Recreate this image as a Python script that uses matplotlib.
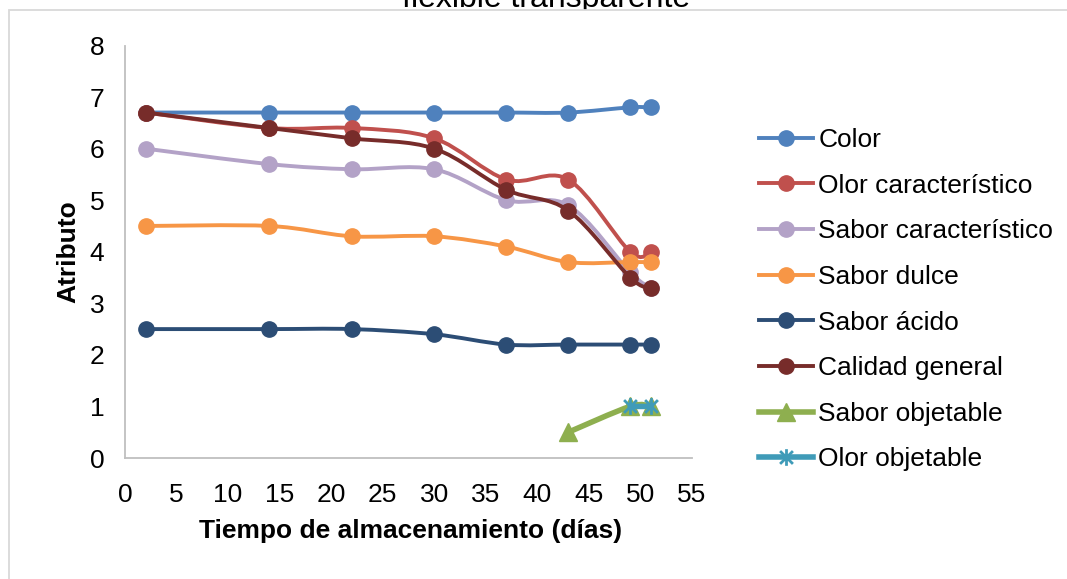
import numpy as np
import matplotlib
matplotlib.use("Agg")
import matplotlib.pyplot as plt
from matplotlib.path import Path
from matplotlib.patches import PathPatch, Rectangle
from matplotlib.lines import Line2D

plt.rcParams['font.family'] = ['Liberation Sans', 'DejaVu Sans']

# datos
dias = [2, 14, 22, 30, 37, 43, 49, 51]
color = [6.7, 6.7, 6.7, 6.7, 6.7, 6.7, 6.8, 6.8]
olor_caract = [6.7, 6.4, 6.4, 6.2, 5.4, 5.4, 4.0, 4.0]
sabor_caract = [6.0, 5.7, 5.6, 5.6, 5.0, 4.9, 3.6, 3.3]
sabor_dulce = [4.5, 4.5, 4.3, 4.3, 4.1, 3.8, 3.8, 3.8]
sabor_acido = [2.5, 2.5, 2.5, 2.4, 2.2, 2.2, 2.2, 2.2]
calidad = [6.7, 6.4, 6.2, 6.0, 5.2, 4.8, 3.5, 3.3]
dias_sabor_obj = [43, 49, 51]
sabor_obj = [0.5, 1.0, 1.0]
dias_olor_obj = [49, 51]
olor_obj = [1.0, 1.0]

x_ticks = list(range(0, 56, 5))
y_ticks = list(range(0, 9))


def smooth_path(xs, ys):
    # curva suavizada tipo Excel (Bezier por tramos)
    pts = np.column_stack([xs, ys]).astype(float)
    n = len(pts)
    verts = [pts[0]]
    codes = [Path.MOVETO]
    for i in range(n - 1):
        p0 = pts[max(i - 1, 0)]
        p1, p2 = pts[i], pts[i + 1]
        p3 = pts[min(i + 2, n - 1)]
        verts += [p1 + (p2 - p0) / 6, p2 - (p3 - p1) / 6, p2]
        codes += [Path.CURVE4] * 3
    return Path(verts, codes)


asterisco = Path([(-1, -1), (1, 1), (-1, 1), (1, -1), (0, -1.3), (0, 1.3)],
                 [Path.MOVETO, Path.LINETO] * 3)

series = [
    ("Color", dias, color, '#4F81BD', 'o', 11, 2.8),
    ("Olor característico", dias, olor_caract, '#C0504D', 'o', 11, 2.8),
    ("Sabor característico", dias, sabor_caract, '#B3A2C7', 'o', 11, 2.8),
    ("Sabor dulce", dias, sabor_dulce, '#F79646', 'o', 11, 2.8),
    ("Sabor ácido", dias, sabor_acido, '#2C4D75', 'o', 11, 2.8),
    ("Calidad general", dias, calidad, '#772C2A', 'o', 11, 2.8),
    ("Sabor objetable", dias_sabor_obj, sabor_obj, '#8EAF4F', '^', 13.5, 4),
    ("Olor objetable", dias_olor_obj, olor_obj, '#3F9BB8', asterisco, 12, 4),
]

fig = plt.figure(figsize=(10.67, 5.79), dpi=100)

fig.text(546 / 1067, (579 - 7) / 579, "flexible transparente", ha='center',
         va='baseline', fontsize=23, zorder=-2)
fig.patches.append(Rectangle((9 / 1067, -0.02), 1.1, (579 - 10) / 579 + 0.02,
                             transform=fig.transFigure, facecolor='white',
                             edgecolor='#D9D9D9', lw=1.3, zorder=-1))

ax = fig.add_axes([125 / 1067, 121 / 579, (692 - 125) / 1067, (533.5 - 121) / 579])
ax.patch.set_alpha(0)

handles = []
for k, (name, xs, ys, c, m, ms, lw) in enumerate(series):
    z = 3 + k
    ax.add_patch(PathPatch(smooth_path(xs, ys), facecolor='none', edgecolor=c,
                           lw=lw, zorder=z, capstyle='round'))
    if m is asterisco:
        ax.plot(xs, ys, ls='none', marker=m, ms=ms, mec=c, mew=2, zorder=z)
        h = Line2D([], [], color=c, lw=lw, marker=m, ms=ms, mec=c, mew=2)
    else:
        ax.plot(xs, ys, ls='none', marker=m, ms=ms, color=c, mec=c, zorder=z)
        h = Line2D([], [], color=c, lw=lw, marker=m, ms=ms, mec=c)
    handles.append(h)

ax.set_xlim(0, 55)
ax.set_ylim(0, 8)
ax.set_xticks(x_ticks)
ax.set_yticks(y_ticks)
ax.tick_params(axis='both', length=0, labelsize=19)
ax.tick_params(axis='x', pad=18)
ax.tick_params(axis='y', pad=15)
for s in ['top', 'right']:
    ax.spines[s].set_visible(False)
for s in ['left', 'bottom']:
    ax.spines[s].set_color('#BFBFBF')
    ax.spines[s].set_linewidth(1.3)

ax.set_xlabel("Tiempo de almacenamiento (días)", fontsize=19, fontweight='bold')
ax.xaxis.set_label_coords(0.503, -0.147)
ax.set_ylabel("Atributo", fontsize=19, fontweight='bold')
ax.yaxis.set_label_coords(-0.078, 0.5)

fig.legend(handles, [s[0] for s in series], loc='upper left',
           bbox_to_anchor=(759 / 1067, (579 - 128) / 579), frameon=False,
           fontsize=19, handlelength=2.05, handletextpad=0.2,
           labelspacing=0.82, borderpad=0, borderaxespad=0)

fig.savefig("out.png", dpi=100)
